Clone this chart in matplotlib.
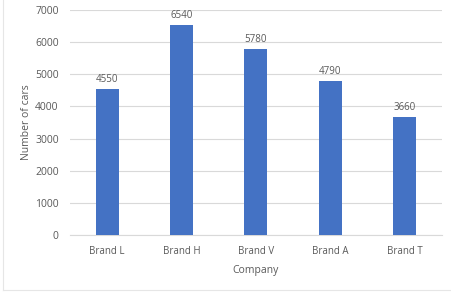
import matplotlib.pyplot as plt
from matplotlib.lines import Line2D

brands = ['Brand L', 'Brand H', 'Brand V', 'Brand A', 'Brand T']
cars = [4550, 6540, 5780, 4790, 3660]
y_ticks = [0, 1000, 2000, 3000, 4000, 5000, 6000, 7000]

plt.rcParams['font.family'] = ['Open Sans', 'DejaVu Sans']
text_color = '#595959'

fig = plt.figure(figsize=(4.51, 2.99), dpi=100)
ax = fig.add_axes([0.155, 0.214, 0.825, 0.753])

# Bars
x = range(len(brands))
bars = ax.bar(x, cars, width=0.31, color='#4472C4', zorder=3)

# Value labels above bars
for xi, v in zip(x, cars):
    ax.text(xi, v + 120, str(v), ha='center', va='bottom', fontsize=7, color=text_color)

# Axes styling
ax.set_xlim(-0.5, len(brands) - 0.5)
ax.set_ylim(0, 7000)
ax.set_yticks(y_ticks)
ax.set_xticks(list(x))
ax.set_xticklabels(brands)
ax.tick_params(axis='both', length=0, colors=text_color)
ax.tick_params(axis='y', pad=8, labelsize=7.5)
ax.tick_params(axis='x', pad=8, labelsize=7)
ax.grid(axis='y', color='#D9D9D9', linewidth=0.8, zorder=0)
for side in ['top', 'right', 'left']:
    ax.spines[side].set_visible(False)
ax.spines['bottom'].set_color('#D9D9D9')
ax.spines['bottom'].set_linewidth(0.8)

ax.set_xlabel('Company', fontsize=7.5, color=text_color, labelpad=6)
ax.set_ylabel('Number of cars', fontsize=7.5, color=text_color, labelpad=2)

# Faint chart border (left and bottom visible)
fig.add_artist(Line2D([3 / 451, 3 / 451], [1 - 290 / 299, 1.0], transform=fig.transFigure,
                      color='#E6E6E6', linewidth=0.8))
fig.add_artist(Line2D([3 / 451, 1.0], [1 - 290 / 299, 1 - 290 / 299], transform=fig.transFigure,
                      color='#E6E6E6', linewidth=0.8))

plt.savefig('out.png', dpi=100)
